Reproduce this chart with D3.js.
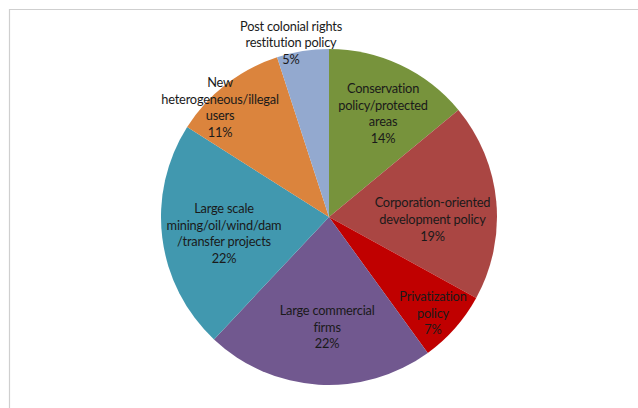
<!DOCTYPE html>
<html>
<head>
<meta charset="utf-8">
<script src="https://cdn.jsdelivr.net/npm/d3@7"></script>
<style>
  html, body { margin: 0; padding: 0; background: #ffffff; }
  svg { display: block; }
  text { font-variant-ligatures: none; font-feature-settings: "liga" 0, "dlig" 0; }
</style>
</head>
<body>
<script>
// ---- Data ----
const categories = [
  "Conservation policy/protected areas",
  "Corporation-oriented development policy",
  "Privatization policy",
  "Large commercial firms",
  "Large scale mining/oil/wind/dam /transfer projects",
  "New heterogeneous/illegal users",
  "Post colonial rights restitution policy"
];
const labelLines = [
  ["Conservation", "policy/protected", "areas"],
  ["Corporation-oriented", "development policy"],
  ["Privatization", "policy"],
  ["Large commercial", "firms"],
  ["Large scale", "mining/oil/wind/dam", "/transfer projects"],
  ["New", "heterogeneous/illegal", "users"],
  ["Post colonial rights", "restitution policy"]
];
const values = [14, 19, 7, 22, 22, 11, 5];
const colors = ["#77933C", "#AA4643", "#C00000", "#71588F", "#4198AF", "#DB843D", "#93A9CF"];

// ---- Layout ----
const W = 638, H = 408;
const cx = 329, cy = 217, R = 168;
// label placement: distance from centre, angle nudge (deg) relative to slice mid-angle
const labelPlace = [
  [117, 2.3], [103.5, 6.7], [141.7, 1.4], [110, -2.6], [106.3, -1.7], [154.7, -7], [178.4, -3.3]
];
const lineH = 16.6;

const svg = d3.select("body").append("svg")
  .attr("width", W).attr("height", H);

// frame
svg.append("path")
  .attr("d", `M9.5,${H} L9.5,9.5 L${W},9.5`)
  .attr("fill", "none")
  .attr("stroke", "#cfcfcf")
  .attr("stroke-width", 1.2);

const pie = d3.pie().sort(null).value(d => d)(values);
const arc = d3.arc().innerRadius(0).outerRadius(R);

const g = svg.append("g").attr("transform", `translate(${cx},${cy})`);

g.selectAll("path.slice")
  .data(pie)
  .join("path")
  .attr("class", "slice")
  .attr("d", arc)
  .attr("fill", (d, i) => colors[i]);

g.selectAll("text.lbl")
  .data(pie)
  .join("text")
  .attr("class", "lbl")
  .attr("font-family", "Lato, 'Open Sans', sans-serif")
  .attr("font-size", 12.8)
  .attr("letter-spacing", -0.2)
  .attr("fill", "#1a1a1a")
  .attr("text-anchor", "middle")
  .each(function (d, i) {
    const mid = (d.startAngle + d.endAngle) / 2 + labelPlace[i][1] * Math.PI / 180;
    const dist = labelPlace[i][0];
    const x = dist * Math.sin(mid);
    const y = -dist * Math.cos(mid);
    const lines = labelLines[i].concat([Math.round(values[i]) + "%"]);
    const n = lines.length;
    const t = d3.select(this);
    lines.forEach((s, k) => {
      t.append("tspan")
        .attr("x", x)
        .attr("y", y + (k - (n - 1) / 2) * lineH + 4.6)
        .text(s);
    });
  });
</script>
</body>
</html>
